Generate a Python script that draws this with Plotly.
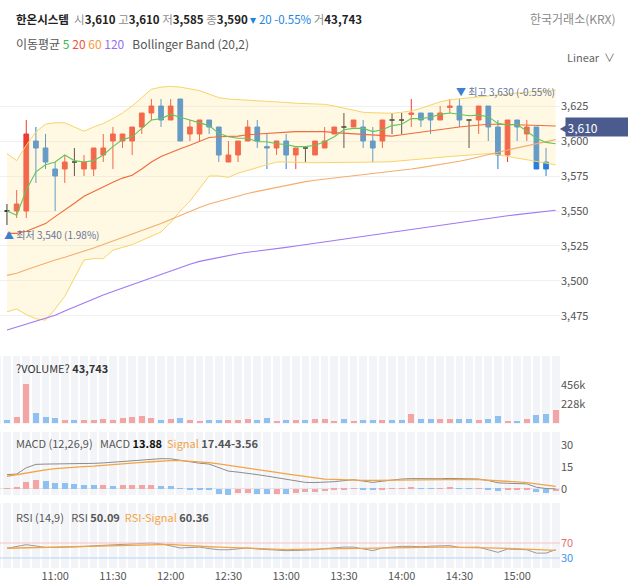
import plotly.graph_objects as go
import pandas as pd

FONT = "Noto Sans CJK KR, Noto Sans, sans-serif"

# ---------------- data ----------------
times = pd.date_range("2024-01-02 10:35", periods=58, freq="5min")
candle_times = times[:57]

opens = [3550,3550,3550,3600,3595,3580,3580,3585,3580,3580,3590,3600,3600,3600,3610,3620,3625,3615,3630,3605,
         3605,3615,3610,3585,3590,3600,3610,3596,3595,3600,3590,3595,3590,3595,3605,3610,3610,3610,3600,3600,
         3615,3615,3619,3620,3620,3615,3624,3625,3615,3615,3625,3610,3590,3615,3605,3610,3585]
highs = [3555,3565,3615,3610,3605,3585,3590,3595,3590,3595,3605,3610,3605,3610,3620,3630,3630,3630,3630,3615,
         3615,3615,3610,3600,3600,3615,3615,3605,3600,3605,3595,3595,3600,3610,3610,3620,3615,3615,3610,3615,
         3620,3620,3630,3620,3620,3625,3630,3630,3615,3625,3625,3615,3615,3615,3615,3610,3595]
lows = [3540,3545,3545,3570,3580,3550,3570,3575,3575,3575,3585,3580,3595,3590,3605,3615,3610,3615,3600,3600,
        3600,3605,3585,3585,3585,3600,3595,3580,3590,3580,3580,3585,3590,3595,3605,3595,3610,3595,3585,3595,
        3605,3605,3610,3610,3605,3615,3620,3610,3595,3605,3600,3580,3585,3600,3600,3580,3575]
closes = [3550,3555,3605,3595,3585,3575,3585,3585,3585,3595,3595,3605,3605,3610,3620,3625,3615,3625,3600,3610,
          3615,3610,3590,3590,3600,3610,3600,3595,3600,3590,3595,3595,3600,3600,3610,3610,3615,3600,3595,3615,
          3615,3615,3620,3615,3615,3620,3625,3615,3615,3625,3610,3590,3615,3610,3610,3580,3580]

ma5 = [3550,3547,3565,3578,3583,3585,3590,3586,3585,3586,3590,3596,3601,3603,3609,3615,3616,3619,3617,3615,
       3612.5,3611,3605.5,3603,3602,3602,3599.5,3599.5,3598,3597.5,3596,3596,3597,3599.5,3603,3608,3609,3609,3606.7,3608,
       3611,3612,3616,3616,3617,3619,3620,3619,3618,3618.5,3617.4,3612.6,3611.4,3612,3606.7,3602,3599,3598]
ma20 = [3534,3534,3535.5,3538,3541,3546,3550.5,3555.5,3560.5,3564,3567,3570.5,3573.5,3575.5,3580,3585,3589,3592,3594.5,3597,
        3600,3602.5,3603,3603,3603.5,3604.5,3605,3605.5,3606,3606.5,3606.7,3606.7,3606.7,3606.7,3606,3605.5,3605,3604.5,3604,3603.5,
        3603.5,3604.5,3605.5,3606.5,3607.5,3608.5,3609.2,3610,3610.7,3611.5,3612,3612,3611.8,3611.5,3611.2,3611,3610.8,3610.7]
ma60 = [3504,3505.5,3508,3510.5,3513,3515,3517,3519,3521,3523.5,3526,3528.5,3531,3533.5,3536,3538,3541,3544,3547,3550,
        3552.5,3555,3557,3559,3561,3562.5,3564,3565.5,3567,3568.5,3570,3571,3572,3572.8,3573.6,3574.4,3575.2,3576,3576.8,3577.5,
        3578,3579,3580,3581,3582,3583,3584.2,3585.5,3587,3588.5,3590.3,3592,3593.6,3595,3596.5,3598,3599.5,3601]
ma120 = [3465,3467,3469,3471,3473,3475.5,3478.5,3481.5,3484.5,3487,3490,3492.5,3495,3497.5,3500,3502,3504.5,3507,3509.5,3512,
         3514,3515.5,3517,3518.5,3519.5,3520.5,3521.3,3522,3523,3524,3525,3526,3527,3528,3529,3530,3531,3532,3533,3534,
         3535,3536,3537,3538,3539,3540,3541,3542,3543,3544,3545,3545.8,3546.6,3547.4,3548.2,3549,3549.8,3550.5]
bb_upper = [3591,3586,3597,3606.5,3612,3613,3613,3610,3607,3610,3612.5,3616,3620,3625,3631,3637,3638.5,3639,3638.5,3637.5,
            3636,3633.5,3631,3630,3629.6,3629.4,3629.2,3628.6,3628,3627.5,3627,3626.8,3626.5,3626.2,3625,3623.5,3621.5,3620.5,3620.2,3620,
            3619.8,3620.5,3621.5,3623.3,3625.5,3628,3629.5,3630.2,3630.8,3631.5,3632,3632.8,3633.6,3634.5,3635.2,3635.6,3636,3636.4]
bb_lower = [3478,3480,3476,3473,3472,3480,3489,3502,3515,3516,3516,3522,3524,3526,3529,3532,3535,3542,3550,3557,
            3566,3575,3575,3574,3577,3579,3581,3583,3585,3585,3584.5,3584.5,3584.5,3584.5,3584.6,3584.7,3584.8,3584.9,3585,3585,
            3585.3,3585.8,3586.4,3587,3587.7,3588.4,3589,3589.5,3590,3590.5,3591,3590.2,3589,3587.8,3586.5,3585,3584,3583]

volume_k = [41,75,465,120,75,62,41,41,41,33,54,41,62,75,83,62,41,54,62,33,17,33,41,41,33,54,41,62,17,33,
            41,33,54,54,17,54,17,33,33,33,41,33,108,50,50,50,54,54,54,33,54,83,29,17,54,91,104,158]
volume_up = [0,1,1,0,0,0,1,0,1,1,1,1,1,1,1,1,0,1,0,1,1,0,0,1,1,1,0,0,1,0,
             1,0,1,1,1,0,1,0,0,1,0,0,1,0,0,1,1,0,0,1,0,0,1,0,1,0,0,1]

macd = [9.8,10.2,14.5,16.8,17,17,17.1,17.2,17.3,17.5,17.8,18.3,18.9,19.4,20,20.5,20.7,20.6,19.6,18.3,
        17.6,17,14.5,12.2,11.5,10.8,9.8,8.8,7.8,6.6,5.3,4.5,4.4,4.5,5,5.7,6.3,5.4,4.5,5.3,
        6.1,6.8,7.1,6.9,6.8,7,7.2,7.1,7,6.8,5.8,4.2,3.9,3.7,3.5,1.2,0.3,0.1]
signal = [8.7,9.8,11.1,12.1,13,13.9,14.5,14.9,15.3,15.6,16,16.5,17,17.6,18.1,18.6,19.1,19.4,19.3,19,
          18.6,18,17.2,16.3,15.3,14.3,13.3,12.3,11.3,10.3,9.3,8.4,7.4,6.8,6.5,6.2,6,5.9,5.9,6,
          6.1,6.3,6.4,6.5,6.6,6.7,6.8,6.7,6.6,6.4,6.1,5.7,5.3,4.8,4.3,3.5,2.6,1.8]
macd_hist = [0.5,0.8,4.5,5.9,5.2,4,4,3.4,2.9,2.5,2.6,2.3,2.5,2.6,2.9,3,2.3,2.2,0.5,-0.5,
             -0.6,-0.9,-3.2,-3.8,-2.7,-2.6,-3.2,-3.3,-3.2,-3.3,-2.7,-2.3,-2,-1.6,-0.9,-0.5,0.1,-0.5,-0.7,-0.1,
             0.1,0.3,0.9,0.5,0.3,0.4,0.7,0.3,0.1,0.3,-0.1,-1.1,-0.7,-0.6,-0.5,-1.8,-2.7,-1.6]

rsi = [56,61,65.5,62,58,58,58.5,59,60.5,62.5,64,64.5,65.5,67,68.5,70,68,62,56.7,58,
       59,55,52,52,54,56.7,54,52,50.5,49.6,50,51,52,55,58,59,59,54,49.6,56.7,
       59,61,61,60,61.5,63,63,58,58.5,59,52,45,54,53,52,43,43,52]
rsi_signal = [56,56.7,57.3,58,58.6,59.3,60,60.6,61.3,62,62.7,63.3,64,64.7,65.3,66,66.7,66.5,64.5,62.5,
              61,60,59,57.8,56.6,55.5,54.5,53.5,52.5,52.5,53,53.5,54,54.6,55.2,55.8,56.4,56.8,57,57.3,
              57.6,57.9,58.2,58.5,58.8,59,59,58.8,58.5,58.2,57.5,56.5,55.5,54.5,53.5,52.5,51.5,50.5]
rsi_levels = [70, 30]

price_ticks = [3475, 3500, 3525, 3550, 3575, 3600, 3625]
current_price = 3610
max_idx, min_idx = 47, 0

# ---------------- style ----------------
RED, BLUE, BLACK = "#ee3b30", "#2a7ed8", "#222222"
RED_L, BLUE_L = "#f5a4a4", "#8ec0f2"
W, H, RM = 628, 585, 68
PW = W - RM

def px(x):
    return x / PW

def py(y):
    return 1 - y / H

fig = go.Figure()

# Bollinger band
fig.add_trace(go.Scatter(x=times, y=bb_lower, mode="lines", line=dict(color="#f8d46a", width=1),
                         xaxis="x", yaxis="y", hoverinfo="skip"))
fig.add_trace(go.Scatter(x=times, y=bb_upper, mode="lines", line=dict(color="#f8d46a", width=1),
                         fill="tonexty", fillcolor="rgba(255,230,150,0.28)", xaxis="x", yaxis="y", hoverinfo="skip"))
for vals, col in [(ma120, "#a178f2"), (ma60, "#f5ad6c"), (ma20, "#ef6a3e"), (ma5, "#62c65a")]:
    fig.add_trace(go.Scatter(x=times, y=vals, mode="lines", line=dict(color=col, width=1.1),
                             xaxis="x", yaxis="y", hoverinfo="skip"))

# candles split by direction
groups = {"up": [], "down": [], "flat": []}
for i in range(len(closes)):
    if closes[i] > opens[i]:
        groups["up"].append(i)
    elif closes[i] < opens[i]:
        groups["down"].append(i)
    else:
        groups["flat"].append(i)
for key, col in [("up", RED), ("down", BLUE), ("flat", BLACK)]:
    idx = groups[key]
    fig.add_trace(go.Candlestick(
        x=[candle_times[i] for i in idx], open=[opens[i] for i in idx], high=[highs[i] for i in idx],
        low=[lows[i] for i in idx], close=[closes[i] for i in idx],
        increasing=dict(line=dict(color=col, width=1), fillcolor=col),
        decreasing=dict(line=dict(color=col, width=1), fillcolor=col),
        whiskerwidth=0, xaxis="x", yaxis="y", hoverinfo="skip"))

bar_w = 5 * 60 * 1000 * 0.62
# volume
fig.add_trace(go.Bar(x=times, y=[v * 1000 for v in volume_k],
                     marker=dict(color=[RED_L if u else BLUE_L for u in volume_up], line=dict(width=0)),
                     width=bar_w, xaxis="x2", yaxis="y2", hoverinfo="skip"))
# MACD
hist_cols = [RED_L if (i == 0 or macd_hist[i] > macd_hist[i - 1]) else BLUE_L for i in range(len(macd_hist))]
fig.add_trace(go.Bar(x=times, y=macd_hist, marker=dict(color=hist_cols, line=dict(width=0)),
                     width=bar_w, xaxis="x3", yaxis="y3", hoverinfo="skip"))
fig.add_trace(go.Scatter(x=times, y=macd, mode="lines", line=dict(color="#8c8c8c", width=1),
                         xaxis="x3", yaxis="y3", hoverinfo="skip"))
fig.add_trace(go.Scatter(x=times, y=signal, mode="lines", line=dict(color="#f2a446", width=1.3),
                         xaxis="x3", yaxis="y3", hoverinfo="skip"))
# RSI
fig.add_trace(go.Scatter(x=times, y=rsi, mode="lines", line=dict(color="#9a9a9a", width=1),
                         xaxis="x4", yaxis="y4", hoverinfo="skip"))
fig.add_trace(go.Scatter(x=times, y=rsi_signal, mode="lines", line=dict(color="#f2a446", width=1.3),
                         xaxis="x4", yaxis="y4", hoverinfo="skip"))

step = pd.Timedelta(minutes=5)
x_range = [times[0] - 0.73 * step, times[0] + 57.45 * step]
tick_font = dict(family=FONT, size=11, color="#555")

def xax(anchor, labels=False, stripes=False):
    d = dict(anchor=anchor, domain=[0, 1], range=x_range, type="date", showgrid=False, zeroline=False,
             showline=False, ticks="", showticklabels=labels, tickformat="%H:%M",
             tick0="2024-01-02 11:00", dtick=30 * 60 * 1000, tickfont=tick_font,
             rangeslider=dict(visible=False), fixedrange=True)
    if stripes:
        d["minor"] = dict(tick0=str(times[0] - step / 2), dtick=5 * 60 * 1000, showgrid=True,
                          gridcolor="white", gridwidth=1.5, ticks="")
    return d

layout = dict(
    width=W, height=H, margin=dict(l=0, r=RM, t=0, b=0),
    paper_bgcolor="white", plot_bgcolor="rgba(0,0,0,0)", showlegend=False,
    font=dict(family=FONT, size=11, color="#333"), bargap=0, hovermode=False,
    xaxis=xax("y"),
    xaxis2=xax("y2", stripes=True),
    xaxis3=xax("y3", stripes=True),
    xaxis4=xax("y4", labels=True, stripes=True),
    yaxis=dict(anchor="x", domain=[py(343), py(72)], range=[3455.7, 3649.3], side="right",
               tickvals=price_ticks, tickformat=",", showgrid=True, gridcolor="#eff0f3", gridwidth=1,
               zeroline=False, ticks="", tickfont=tick_font, fixedrange=True),
    yaxis2=dict(anchor="x2", domain=[py(424), py(356)], range=[-12000, 804000], side="right",
                tickvals=[228000, 456000], ticktext=["228k", "456k"], showgrid=False, zeroline=False,
                ticks="", tickfont=tick_font, fixedrange=True),
    yaxis3=dict(anchor="x3", domain=[py(495), py(432)], range=[-4.1, 38.9], side="right",
                tickvals=[0, 15, 30], showgrid=False, zeroline=True, zerolinecolor="#e2e4ea", zerolinewidth=1,
                ticks="", tickfont=tick_font, fixedrange=True),
    yaxis4=dict(anchor="x4", domain=[py(568), py(503)], range=[3.3, 176.7], side="right",
                tickvals=rsi_levels, ticktext=["<span style='color:#e86f6f'>70</span>",
                                               "<span style='color:#3d95e8'>30</span>"],
                showgrid=False, zeroline=False, ticks="", tickfont=tick_font, fixedrange=True),
)
fig.update_layout(**layout)

shapes = []
for n in ["2", "3", "4"]:
    shapes.append(dict(type="rect", xref=f"x{n} domain", yref=f"y{n} domain", x0=0, x1=1, y0=0, y1=1,
                       fillcolor="#f3f4f8", line=dict(width=0), layer="below"))
for lvl, col in zip(rsi_levels, ["#f6c2c2", "#b7d5f3"]):
    shapes.append(dict(type="line", xref="x4 domain", yref="y4", x0=0, x1=1, y0=lvl, y1=lvl,
                       line=dict(color=col, width=1), layer="above"))
fig.update_layout(shapes=shapes)

G = "#8c8c8c"
ann = []
def add(text, x, y, size=12, color="#222", xanchor="left", **kw):
    ann.append(dict(text=text, x=x, y=y, xref=kw.pop("xref", "paper"), yref=kw.pop("yref", "paper"),
                    xanchor=xanchor, yanchor="middle", showarrow=False,
                    font=dict(family=FONT, size=size, color=color), **kw))

add(f"<b>한온시스템</b>  <span style='color:{G}'>시</span><b>3,610</b> <span style='color:{G}'>고</span><b>3,610</b> "
    f"<span style='color:{G}'>저</span><b>3,585</b> <span style='color:{G}'>종</span><b>3,590</b> "
    f"<span style='color:#1a86e0'>▾ 20 -0.55%</span> <span style='color:{G}'>거</span><b>43,743</b>",
    px(14), py(19), size=11.5)
add("한국거래소(KRX)", px(618), py(19), size=12, color="#8a8a8a", xanchor="right")
add("이동평균 <span style='color:#3cb64a'>5</span> <span style='color:#f0533f'>20</span> "
    "<span style='color:#f59a3c'>60</span> <span style='color:#9a6cf0'>120</span>   Bollinger Band (20,2)",
    px(14), py(44), size=12, color="#555")
add("Linear  ∨", px(617), py(57), size=11, color="#666", xanchor="right")

# max / min labels
add("<span style='color:#3d7fd6'>▼</span> 최고 3,630 (-0.55%)", times[max_idx], highs[max_idx], size=10,
    color="#66769a", xref="x", yref="y", yshift=8, xshift=-5)
add("<span style='color:#3d7fd6'>▲</span> 최저 3,540 (1.98%)", times[min_idx], lows[min_idx], size=10,
    color="#66769a", xref="x", yref="y", yshift=-9, xshift=-5)

# current price tag
add("◀", 1.0, current_price, size=13, color="#4b5b8e", xref="paper", yref="y", xshift=-3)
ann.append(dict(text="3,610", x=1.0, y=current_price, xref="paper", yref="y", xanchor="left", yanchor="middle",
                showarrow=False, xshift=5, width=62, height=15, align="left", bgcolor="#4b5b8e", borderpad=1.5,
                font=dict(family=FONT, size=12, color="white")))

add("?VOLUME? <b>43,743</b>", px(14), py(368), size=11, color="#333")
add("MACD (12,26,9)   MACD <b style='color:#111'>13.88</b>  <span style='color:#f2a446'>Signal</span> "
    "<b>17.44-3.56</b>", px(14), py(443), size=11, color="#555")
add("RSI (14,9)   RSI <b>50.09</b>  <span style='color:#f2a446'>RSI-Signal</span> <b>60.36</b>",
    px(14), py(517), size=11, color="#555")

fig.update_layout(annotations=ann)
fig.write_html("out.html", config={"displayModeBar": False},
               post_script="document.body.style.margin='0px';")
